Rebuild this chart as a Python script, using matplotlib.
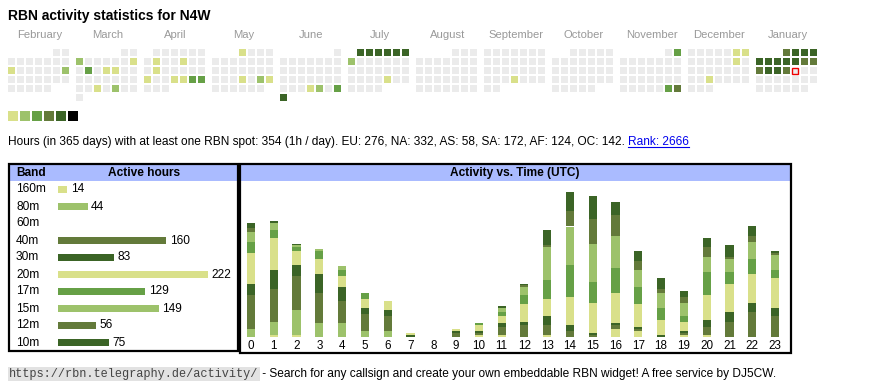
import datetime as dt
import numpy as np
import matplotlib.pyplot as plt
from matplotlib.patches import Rectangle

plt.rcParams['font.family'] = ['Liberation Sans', 'DejaVu Sans']

"Calendar data"
months = ['February', 'March', 'April', 'May', 'June', 'July', 'August',
          'September', 'October', 'November', 'December', 'January']
month_starts = ['2025-02', '2025-03', '2025-04', '2025-05', '2025-06', '2025-07',
                '2025-08', '2025-09', '2025-10', '2025-11', '2025-12', '2026-01']
active_days = [
    ('2025-02-10', 1), ('2025-02-16', 2),
    ('2025-03-03', 2), ('2025-03-09', 1), ('2025-03-11', 3), ('2025-03-13', 1),
    ('2025-03-14', 1), ('2025-03-26', 1), ('2025-03-28', 2),
    ('2025-04-08', 1), ('2025-04-11', 1), ('2025-04-15', 1), ('2025-04-21', 1),
    ('2025-04-24', 1), ('2025-04-25', 1), ('2025-04-26', 3), ('2025-04-27', 3),
    ('2025-05-01', 1), ('2025-05-22', 1), ('2025-05-24', 2), ('2025-05-25', 1),
    ('2025-06-26', 1), ('2025-06-27', 2), ('2025-06-29', 3), ('2025-06-30', 5),
    ('2025-07-01', 5), ('2025-07-02', 5), ('2025-07-03', 5), ('2025-07-04', 5),
    ('2025-07-05', 5), ('2025-07-06', 5), ('2025-07-07', 2), ('2025-07-25', 1),
    ('2025-09-25', 1),
    ('2025-11-02', 3), ('2025-11-29', 3), ('2025-11-30', 4),
    ('2025-12-06', 1), ('2025-12-07', 1), ('2025-12-13', 1), ('2025-12-24', 1),
    ('2026-01-01', 4), ('2026-01-02', 5), ('2026-01-03', 5), ('2026-01-04', 5),
    ('2026-01-05', 5), ('2026-01-06', 5), ('2026-01-07', 5), ('2026-01-08', 5),
    ('2026-01-09', 5), ('2026-01-10', 4), ('2026-01-11', 4), ('2026-01-12', 4),
    ('2026-01-13', 5), ('2026-01-14', 5), ('2026-01-15', 4),
]
today = '2026-01-16'
level_colors = ['#ebebeb', '#d9e08a', '#9dc26b', '#66a046', '#637a3a', '#3b6426', '#000000']

"Band data"
bands = ['160m', '80m', '60m', '40m', '30m', '20m', '17m', '15m', '12m', '10m']
band_hours = [14, 44, 0, 160, 83, 222, 129, 149, 56, 75]
band_colors = ['#d9e08a', '#9dc26b', '#66a046', '#637a3a', '#3b6426',
               '#d9e08a', '#66a046', '#9dc26b', '#637a3a', '#3b6426']

"Activity vs. time (hours per UTC hour, stacked bottom->top in band order)"
utc_hours = np.arange(24)
activity = {
    '160m': [0, 1, 1, 0, 0, 0, 0, 0, 0, 0, 1, 1, 0, 1, 0, 0, 4, 3, 0, 1, 1, 0, 0, 0],
    '80m':  [4, 7, 13, 7, 7, 3, 3, 0, 0, 0, 0, 0, 0, 0, 0, 0, 0, 0, 0, 0, 0, 0, 0, 0],
    '60m':  [0] * 24,
    '40m':  [18, 17, 18, 16, 12, 9, 8, 0, 0, 2, 1, 4, 6, 5, 3, 1, 2, 1, 0, 1, 4, 8, 13, 11],
    '30m':  [6, 10, 6, 10, 7, 3, 3, 1, 0, 1, 1, 2, 2, 5, 3, 1, 1, 1, 1, 1, 4, 5, 5, 4],
    '20m':  [16, 17, 7, 8, 6, 5, 5, 1, 0, 1, 3, 4, 9, 9, 15, 16, 16, 12, 8, 5, 13, 15, 15, 16],
    '17m':  [6, 4, 2, 4, 3, 3, 0, 0, 0, 0, 1, 2, 5, 10, 17, 11, 13, 9, 6, 3, 12, 6, 8, 4],
    '15m':  [5, 4, 1, 1, 2, 0, 0, 0, 0, 0, 0, 2, 4, 17, 20, 20, 17, 9, 8, 7, 8, 7, 9, 8],
    '12m':  [2, 0, 0, 0, 0, 0, 0, 0, 0, 0, 0, 0, 1, 1, 8, 13, 11, 5, 2, 3, 5, 1, 3, 1],
    '10m':  [3, 1, 1, 0, 0, 0, 0, 0, 0, 0, 0, 1, 1, 8, 10, 12, 7, 5, 6, 3, 5, 6, 5, 1],
}

summary = ('Hours (in 365 days) with at least one RBN spot: 354 (1h / day). '
           'EU: 276, NA: 332, AS: 58, SA: 172, AF: 124, OC: 142. ')
rank = 'Rank: 2666'
url = 'https://rbn.telegraphy.de/activity/'
footer = ' - Search for any callsign and create your own embeddable RBN widget! A free service by DJ5CW.'

W, H = 870, 390
FS = 8.6
fig = plt.figure(figsize=(W / 100, H / 100), dpi=100)


def px_axes(x0, y0, x1, y1):
    return fig.add_axes([x0 / W, 1 - y1 / H, (x1 - x0) / W, (y1 - y0) / H])


"Background axes in pixel coordinates"
bg = px_axes(0, 0, W, H)
bg.set_xlim(0, W)
bg.set_ylim(H, 0)
bg.axis('off')

bg.text(8, 16, 'RBN activity statistics for N4W', fontsize=10, fontweight='bold', va='center')

"Calendar"
levels = {dt.date.fromisoformat(d): lv for d, lv in active_days}
today_d = dt.date.fromisoformat(today)
for m, ms in enumerate(month_starts):
    first = dt.date.fromisoformat(ms + '-01')
    nxt = (first + dt.timedelta(days=32)).replace(day=1)
    x0 = 8 + 68 * m
    bg.text(x0 + 31.5, 35.5, months[m], fontsize=8.1, color='#999999', ha='center', va='center')
    d = first
    while d < nxt:
        row = (d.day - 1 + first.weekday()) // 7
        x = x0 + 9 * d.weekday()
        y = 49 + 9 * row
        lv = levels.get(d, 0)
        if d == today_d:
            bg.add_patch(Rectangle((x + 0.5, y + 0.5), 6, 6, facecolor='#ebebeb',
                                   edgecolor='#ee0000', lw=1))
        else:
            bg.add_patch(Rectangle((x, y), 7, 7, facecolor=level_colors[lv], lw=0))
        d += dt.timedelta(days=1)

for k, c in enumerate(level_colors[1:]):
    bg.add_patch(Rectangle((8 + 12 * k, 111), 10, 10, facecolor=c, lw=0))

t1 = bg.text(8, 142, summary, fontsize=FS, va='center')
t2 = bg.annotate(rank, xy=(1, 0.5), xycoords=t1, va='center', fontsize=FS, color='#0000ee')

"Panels"
hdr = '#aabbff'
bg.add_patch(Rectangle((10, 165), 228, 16, facecolor=hdr, lw=0))
bg.add_patch(Rectangle((241, 165), 549, 16, facecolor=hdr, lw=0))
bg.add_patch(Rectangle((9, 164), 229, 187, fill=False, edgecolor='black', lw=1.6))
bg.add_patch(Rectangle((240, 164), 551, 189, fill=False, edgecolor='black', lw=1.6))
bg.text(16, 173, 'Band', fontsize=FS, fontweight='bold', va='center')
bg.text(144, 173, 'Active hours', fontsize=FS, fontweight='bold', va='center', ha='center')
bg.text(515, 173, 'Activity vs. Time (UTC)', fontsize=FS, fontweight='bold', va='center', ha='center')

"Band bars"
ax1 = px_axes(58, 181, 236, 351)
rows = np.arange(len(bands))
ax1.barh(rows, band_hours, height=0.42, color=band_colors)
for r, v in zip(rows, band_hours):
    if v > 0:
        ax1.annotate(str(v), xy=(v, r), xytext=(2.5, 0), textcoords='offset points',
                     va='center', fontsize=FS)
ax1.set_xlim(0, 222 * 178 / 150)
ax1.set_ylim(len(bands) - 0.5, -0.5)
ax1.set_yticks(rows)
ax1.set_yticklabels(bands, fontsize=FS)
for lbl in ax1.get_yticklabels():
    lbl.set_ha('left')
    lbl.set_va('center')
ax1.tick_params(axis='y', length=0, pad=30.2)
ax1.set_xticks([])
for s in ax1.spines.values():
    s.set_visible(False)
ax1.patch.set_alpha(0)

"Activity vs time"
ax2 = px_axes(240, 181, 790, 336.7)
bottom = np.zeros(24)
for b, c in zip(bands, band_colors):
    vals = np.array(activity[b])
    ax2.bar(utc_hours, vals, bottom=bottom, width=0.36, color=c, lw=0)
    bottom += vals
pitch = (775 - 251) / 23
lo = -(251 - 240) / pitch
ax2.set_xlim(lo, lo + 550 / pitch)
ax2.set_ylim(0, (336.7 - 181) / 1.9)
ax2.set_xticks(utc_hours)
ax2.set_xticklabels([str(h) for h in utc_hours], fontsize=8.4)
ax2.tick_params(axis='x', length=0, pad=2.5)
ax2.set_yticks([])
for s in ax2.spines.values():
    s.set_visible(False)
ax2.patch.set_alpha(0)

"Footer"
bg.text(9, 374, url, fontsize=8.6, family=['Liberation Mono', 'DejaVu Sans Mono'], va='center',
        color='#444444', bbox=dict(boxstyle='square,pad=0.12', facecolor='#e2e2e2', edgecolor='none'))
bg.text(259, 374, footer, fontsize=8.6, va='center')

"Underline for the link"
fig.canvas.draw()
bb = t2.get_window_extent().transformed(bg.transData.inverted())
bg.plot([bb.x0, bb.x1], [bb.y0 - 1.5, bb.y0 - 1.5], color='#0000ee', lw=0.8)

plt.savefig('out.png', dpi=100)
